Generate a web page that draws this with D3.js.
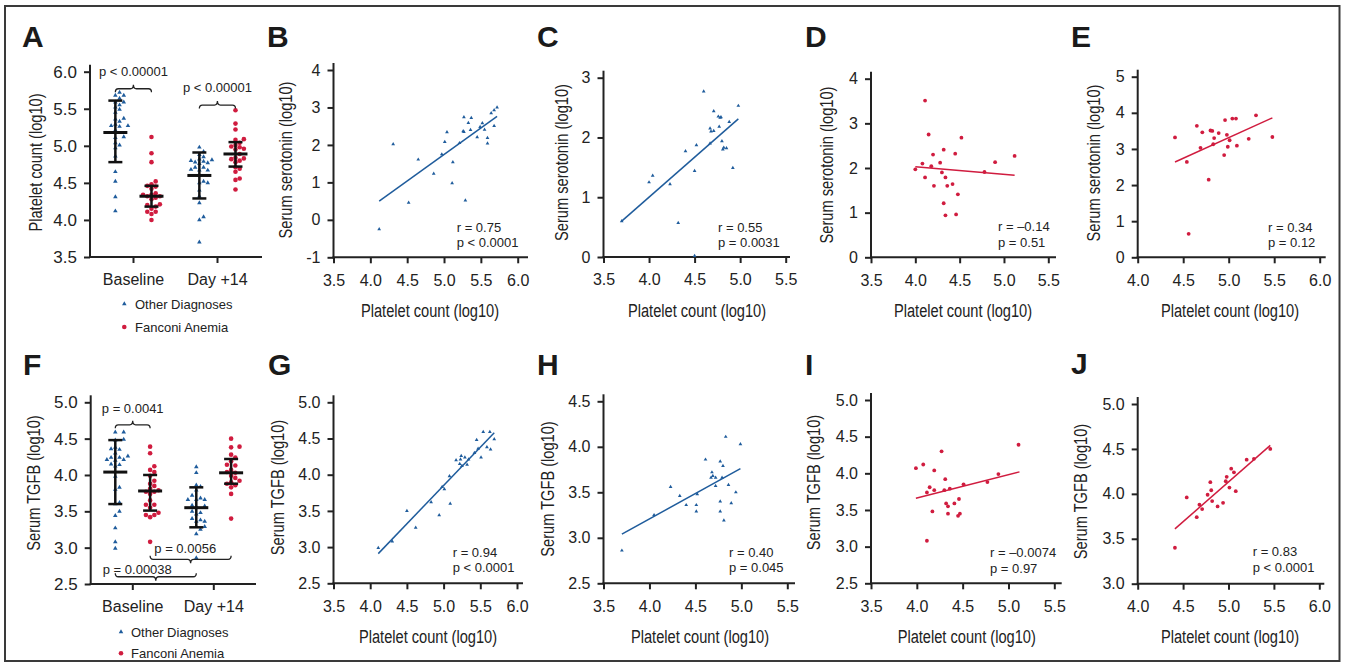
<!DOCTYPE html>
<html>
<head>
<meta charset="utf-8">
<script src="https://cdn.jsdelivr.net/npm/d3@7"></script>
<style>
body { margin: 0; background: #fff; }
text { font-family: "Liberation Sans", Arial, Helvetica, sans-serif; fill: #222; }
</style>
</head>
<body>
<div id="fig"></div>
<script>
// ---------- data ----------
// B: serotonin vs platelets, other diagnoses, baseline
var bPlt = [4.12,4.31,4.52,4.65,4.86,4.97,5.01,5.04,5.11,5.12,5.21,5.26,5.27,5.27,5.29,5.33,5.36,5.37,5.45,5.49,5.52,5.55,5.59,5.59,5.64,5.68,5.68,5.72];
var bSer = [-0.25,2.02,0.46,1.61,1.23,1.75,2.08,2.34,0.98,1.54,2.05,2.37,2.74,2.35,0.52,2.59,2.40,2.72,2.21,2.48,2.58,2.41,2.19,2.04,2.85,2.51,2.93,3.00];
// C: other diagnoses, day +14
var cPlt = [3.70,4.00,4.04,4.23,4.32,4.40,4.50,4.50,4.52,4.60,4.67,4.67,4.68,4.71,4.71,4.76,4.77,4.78,4.79,4.80,4.81,4.82,4.85,4.88,4.92,4.98];
var cSer = [0.60,1.25,1.36,1.22,0.57,1.77,1.44,0.02,1.87,2.77,1.90,2.15,2.10,2.11,2.44,2.35,2.18,2.33,2.34,1.94,1.80,1.83,1.82,2.26,1.49,2.53];
// D: Fanconi anemia, baseline
var dPlt = [4.00,4.08,4.11,4.11,4.15,4.18,4.20,4.21,4.28,4.30,4.32,4.32,4.34,4.34,4.36,4.42,4.45,4.46,4.48,4.52,4.78,4.90,5.12];
var dSer = [1.97,2.10,3.51,1.79,2.75,2.04,2.30,1.60,2.12,1.90,2.41,1.21,1.79,0.94,1.60,1.64,2.32,0.96,1.41,2.68,1.91,2.13,2.27];
// E: Fanconi anemia, day +14
var ePlt = [4.41,4.54,4.56,4.65,4.69,4.71,4.78,4.80,4.82,4.83,4.84,4.89,4.95,4.96,4.98,4.99,5.01,5.04,5.08,5.09,5.22,5.30,5.48];
var eSer = [3.32,2.64,0.65,3.64,3.03,3.46,2.15,3.51,3.50,3.13,3.30,3.44,2.83,3.80,3.39,3.06,3.24,3.84,3.84,3.09,3.28,3.93,3.33];
// G-J: TGFB vs platelets
var gPlt = [4.11,4.30,4.50,4.62,4.83,4.94,4.98,5.01,5.08,5.09,5.17,5.22,5.24,5.23,5.25,5.29,5.32,5.34,5.42,5.45,5.47,5.51,5.54,5.59,5.63,5.64,5.69];
var gTgf = [2.99,3.08,3.50,3.27,3.62,3.44,3.83,3.80,3.98,3.60,4.20,4.15,4.26,4.21,4.12,4.24,4.14,4.21,4.30,4.48,4.36,4.24,4.59,4.38,4.59,4.35,4.49];
var hPlt = [3.70,4.05,4.23,4.33,4.40,4.51,4.51,4.52,4.61,4.67,4.68,4.69,4.72,4.72,4.77,4.77,4.77,4.79,4.80,4.81,4.83,4.86,4.89,4.94,4.99];
var hTgf = [2.86,3.25,3.56,3.46,3.36,3.36,3.29,3.48,3.86,3.66,3.72,3.68,3.57,3.66,3.84,3.40,3.29,3.66,3.79,3.19,4.11,3.58,3.38,3.50,4.03];
var iPlt = [3.99,4.07,4.11,4.11,4.14,4.17,4.19,4.19,4.27,4.30,4.31,4.32,4.34,4.34,4.36,4.41,4.45,4.46,4.47,4.51,4.77,4.89,5.11];
var iTgf = [4.07,4.12,3.08,3.74,3.81,3.48,4.04,3.77,4.30,3.77,3.92,3.59,3.55,3.45,3.79,3.59,3.42,3.65,3.45,3.85,3.88,3.99,4.39];
var jPlt = [4.41,4.54,4.65,4.68,4.71,4.77,4.80,4.81,4.82,4.88,4.94,4.97,4.98,5.01,5.03,5.06,5.08,5.20,5.28,5.46];
var jTgf = [3.40,3.96,3.74,3.88,3.83,3.99,4.13,4.04,3.92,3.86,3.90,4.14,4.19,4.07,4.28,4.24,4.03,4.38,4.39,4.50];

// regression line end points (data units)
var fitB = [[4.12,0.50],[5.72,2.76]];
var fitC = [[3.70,0.60],[4.98,2.31]];
var fitD = [[4.00,2.03],[5.12,1.84]];
var fitE = [[4.41,2.64],[5.48,3.86]];
var fitG = [[4.11,2.91],[5.69,4.58]];
var fitH = [[3.70,3.04],[4.99,3.76]];
var fitI = [[3.99,3.66],[5.12,4.02]];
var fitJ = [[4.41,3.61],[5.46,4.54]];

var statsText = [
  ["r = 0.75", "p < 0.0001"], ["r = 0.55", "p = 0.0031"], ["r = \u20130.14", "p = 0.51"], ["r = 0.34", "p = 0.12"],
  ["r = 0.94", "p < 0.0001"], ["r = 0.40", "p = 0.045"], ["r = \u20130.0074", "p = 0.97"], ["r = 0.83", "p < 0.0001"]
];

// A / F: mean and SD bars (order: other baseline, FA baseline, other day+14, FA day+14)
var aMean = [5.18, 4.32, 4.60, 4.89];
var aLo   = [4.78, 4.18, 4.29, 4.72];
var aHi   = [5.61, 4.46, 4.91, 5.05];
var fMean = [4.04, 3.78, 3.55, 4.03];
var fLo   = [3.60, 3.51, 3.28, 3.88];
var fHi   = [4.48, 4.00, 3.83, 4.22];
var pA = ["p < 0.00001", "p < 0.00001"];
var pF = ["p = 0.0041", "p = 0.0056", "p = 0.00038"];

var categories = ["Baseline", "Day +14"];
var seriesNames = ["Other Diagnoses", "Fanconi Anemia"];
var letters = ["A","B","C","D","E","F","G","H","I","J"];

var pltTicks1 = [3.5,4.0,4.5,5.0,5.5,6.0];
var pltTicks2 = [3.5,4.0,4.5,5.0,5.5];
var pltTicks3 = [4.0,4.5,5.0,5.5,6.0];

// ---------- layout ----------
var blue = "#1f5c9c", red = "#d01c3f";
var svg = d3.select("#fig").append("svg").attr("width", 1346).attr("height", 663);

svg.append("rect")
    .attr("x", 5).attr("y", 6).attr("width", 1334.5).attr("height", 655)
    .attr("fill", "none").attr("stroke", "#3a3a3a").attr("stroke-width", 2);

var letterPos = [[22,47],[267,47],[537,47],[805,47],[1071,47],[23,375],[268,375],[537,375],[805,375],[1071,374]];
letters.forEach(function(l, i) {
    svg.append("text")
        .attr("x", letterPos[i][0]).attr("y", letterPos[i][1])
        .style("font-size", "30px").style("font-weight", "bold")
        .style("fill", "#1a1a1a")
        .text(l);
});

// condensed label (the figure uses a narrow face)
function label(g, str, x, y, vertical) {
    g.append("text")
        .attr("transform", "translate(" + x + "," + y + ")" + (vertical ? " rotate(-90)" : "") + " scale(0.77,1)")
        .attr("text-anchor", "middle")
        .attr("dy", vertical ? "0.35em" : 0)
        .style("font-size", "19px")
        .text(str);
}

function axes(g, x, y, xTicks, yTicks, xFmt, yFmt, x0, xEnd, ySize) {
    var yA = g.append("g").attr("transform", "translate(" + x0 + ",0)")
        .call(d3.axisLeft(y).tickValues(yTicks).tickFormat(yFmt).tickSize(6).tickPadding(7));
    var xA = g.append("g").attr("transform", "translate(0," + y.range()[0] + ")")
        .call(d3.axisBottom(x).tickValues(xTicks).tickFormat(xFmt).tickSize(6).tickPadding(11));
    [yA, xA].forEach(function(a) {
        a.select(".domain").remove();
        a.attr("font-family", null).attr("font-size", null);
        a.selectAll("line").attr("stroke", "#222").attr("stroke-width", 2);
        a.selectAll("text").style("font-size", "16px").attr("fill", "#222");
    });
    if (ySize) yA.selectAll("text").style("font-size", ySize);
    g.append("line")
        .attr("x1", x0).attr("x2", x0)
        .attr("y1", y.range()[1] - 7).attr("y2", y.range()[0] + 1)
        .attr("stroke", "#222").attr("stroke-width", 2);
    g.append("line")
        .attr("x1", x0 - 1).attr("x2", xEnd)
        .attr("y1", y.range()[0]).attr("y2", y.range()[0])
        .attr("stroke", "#222").attr("stroke-width", 2);
}

function mark(g, series, cx, cy, big) {
    if (series == 0) {
        g.append("path")
            .attr("d", d3.symbol(d3.symbolTriangle).size(big ? 9 : 6)())
            .attr("transform", "translate(" + cx + "," + cy + ")")
            .attr("fill", blue);
    } else {
        g.append("circle").attr("cx", cx).attr("cy", cy).attr("r", big ? 2.3 : 1.9).attr("fill", red);
    }
}

// ---------- scatter panels B-E, G-J ----------
var scatterData = [
    [bPlt, bSer, fitB, 0], [cPlt, cSer, fitC, 0], [dPlt, dSer, fitD, 1], [ePlt, eSer, fitE, 1],
    [gPlt, gTgf, fitG, 0], [hPlt, hTgf, fitH, 0], [iPlt, iTgf, fitI, 1], [jPlt, jTgf, fitJ, 1]
];
var scatterLayout = [
    {xd:[3.5,6.0], xr:[333.5,517.7], yd:[-1,4], yr:[257.3,70],   xEnd:528,    yt:[-1,0,1,2,3,4], xt:pltTicks1, sx:456.7, sy:231.5, ylx:285.3, yly:160,   xlx:430,   xly:317, yl:"Serum serotonin (log10)"},
    {xd:[3.5,5.5], xr:[603.5,785.7], yd:[0,3],  yr:[257,77.7],   xEnd:790,    yt:[0,1,2,3],      xt:pltTicks2, sx:718,   sy:231.5, ylx:561.3, yly:162.5, xlx:697,   xly:317, yl:"Serum serotonin (log10)"},
    {xd:[3.5,5.5], xr:[871,1048.3],  yd:[0,4],  yr:[257.3,78.7], xEnd:1056,   yt:[0,1,2,3,4],    xt:pltTicks2, sx:998,   sy:231,   ylx:826.3, yly:165,   xlx:963,   xly:317, yl:"Serum serotonin (log10)"},
    {xd:[4.0,6.0], xr:[1137.7,1319.7], yd:[0,5], yr:[257.3,76.7], xEnd:1325.7, yt:[0,1,2,3,4,5],  xt:pltTicks3, sx:1268,  sy:231.5, ylx:1093,  yly:163,   xlx:1230,  xly:317, yl:"Serum serotonin (log10)"},
    {xd:[3.5,6.0], xr:[333.5,517],   yd:[2.5,5.0], yr:[583.3,402.3], xEnd:523,  yt:[2.5,3,3.5,4,4.5,5], xt:pltTicks1, sx:452.7, sy:556.5, ylx:277,   yly:487.5, xlx:428,   xly:643, yl:"Serum TGFB (log10)"},
    {xd:[3.5,5.5], xr:[603.5,787.3], yd:[2.5,4.5], yr:[583.3,401.3], xEnd:795,  yt:[2.5,3,3.5,4,4.5],   xt:pltTicks2, sx:729,   sy:556.5, ylx:547,   yly:489,   xlx:700,   xly:643, yl:"Serum TGFB (log10)"},
    {xd:[3.5,5.5], xr:[871,1054.3],  yd:[2.5,5.0], yr:[583.3,400],   xEnd:1061.7, yt:[2.5,3,3.5,4,4.5,5], xt:pltTicks2, sx:990, sy:557,   ylx:813.7, yly:482.5, xlx:966.7, xly:643, yl:"Serum TGFB (log10)"},
    {xd:[4.0,6.0], xr:[1137.7,1319.3], yd:[3.0,5.0], yr:[583.7,404], xEnd:1324.3, yt:[3,3.5,4,4.5,5],   xt:pltTicks3, sx:1252.7, sy:556, ylx:1080.3, yly:491.5, xlx:1230,  xly:643, yl:"Serum TGFB (log10)"}
];

scatterLayout.forEach(function(L, i) {
    var d = scatterData[i];
    var g = svg.append("g");
    var x = d3.scaleLinear().domain(L.xd).range(L.xr);
    var y = d3.scaleLinear().domain(L.yd).range(L.yr);
    var yFmt = i < 4 ? function(v) { return String(v); } : d3.format(".1f");
    axes(g, x, y, L.xt, L.yt, d3.format(".1f"), yFmt, L.xr[0], L.xEnd);

    d[0].forEach(function(px, k) {
        mark(g, d[3], x(px), y(d[1][k]), false);
    });

    g.append("path")
        .datum(d[2])
        .attr("d", d3.line().x(function(p) { return x(p[0]); }).y(function(p) { return y(p[1]); }))
        .attr("fill", "none")
        .attr("stroke", d[3] == 0 ? blue : red)
        .attr("stroke-width", 1.5);

    statsText[i].forEach(function(t, k) {
        g.append("text").attr("x", L.sx).attr("y", L.sy + k * 15.5)
            .style("font-size", "13px").text(t);
    });

    label(g, "Platelet count (log10)", L.xlx, L.xly, false);
    label(g, L.yl, L.ylx, L.yly, true);
});

// ---------- dot plots A and F ----------
function swarm(vals, cx, y) {
    var placed = [];
    vals.slice().sort(d3.ascending).forEach(function(v) {
        var py = y(v), offs = [0];
        for (var k = 1; k < 10; k++) offs.push(k * 4.2, -k * 4.2);
        for (var j = 0; j < offs.length; j++) {
            var px = cx + offs[j];
            var ok = placed.every(function(q) { return Math.hypot(q.px - px, q.py - py) >= 4.4; });
            if (ok) { placed.push({px: px, py: py}); break; }
        }
    });
    return placed;
}

function brace(x1, x2, yy, dir) {
    var xm = (x1 + x2) / 2, t = -dir * 3.5, c = dir * 4;
    return "M" + x1 + "," + (yy + t) + " Q" + x1 + "," + yy + " " + (x1 + 3) + "," + yy +
        " L" + (xm - 3) + "," + yy + " Q" + xm + "," + yy + " " + xm + "," + (yy + c) +
        " Q" + xm + "," + yy + " " + (xm + 3) + "," + yy +
        " L" + (x2 - 3) + "," + yy + " Q" + x2 + "," + yy + " " + x2 + "," + (yy + t);
}

var groupCat = [0, 0, 1, 1], groupOff = [-0.21, 0.22, -0.21, 0.22], groupSeries = [0, 1, 0, 1];

var dotLayout = [
    {yd:[3.5,6.0], yr:[257,71.7], catX:[133,217], x0:90, xEnd:262, yt:[3.5,4,4.5,5,5.5,6], ylx:35.5, yly:162.5,
     yl:"Platelet count (log10)", legX:124.3, legY:[304,327], legTx:135,
     br:[{a:0,b:1,v:5.77,dir:-1,dx:0,dy:-13}, {a:2,b:3,v:5.55,dir:-1,dx:0,dy:-13}]},
    {yd:[2.5,5.0], yr:[584,402.3], catX:[132.3,213.3], x0:90.7, xEnd:256, yt:[2.5,3,3.5,4,4.5,5], ylx:33, yly:483,
     yl:"Serum TGFB (log10)", legX:121, legY:[632,653.3], legTx:131,
     br:[{a:0,b:1,v:4.69,dir:-1,dx:0,dy:-12.3}, {a:1,b:3,v:2.84,dir:1,dx:-5.4,dy:-6.6}, {a:0,b:2,v:2.60,dir:1,dx:-18.5,dy:-2.7}]}
];
var dotData = [
    {groups:[bPlt, dPlt, cPlt, ePlt], mean:aMean, lo:aLo, hi:aHi, p:pA},
    {groups:[gTgf, iTgf, hTgf, jTgf], mean:fMean, lo:fLo, hi:fHi, p:pF}
];

dotLayout.forEach(function(L, i) {
    var D = dotData[i];
    var g = svg.append("g");
    var x = d3.scaleLinear().domain([0, 1]).range(L.catX);
    var y = d3.scaleLinear().domain(L.yd).range(L.yr);
    axes(g, x, y, [0, 1], L.yt, function(c) { return categories[c]; }, d3.format(".1f"), L.x0, L.xEnd, "17px");

    D.groups.forEach(function(vals, k) {
        var cx = x(groupCat[k] + groupOff[k]);
        swarm(vals, cx, y).forEach(function(p) { mark(g, groupSeries[k], p.px, p.py, true); });
        var bar = g.append("g").attr("stroke", "#111").attr("stroke-width", 2.5);
        bar.append("line").attr("x1", cx).attr("x2", cx).attr("y1", y(D.lo[k])).attr("y2", y(D.hi[k]));
        bar.append("line").attr("x1", cx - 12).attr("x2", cx + 12).attr("y1", y(D.mean[k])).attr("y2", y(D.mean[k])).attr("stroke-width", 3);
        [D.lo[k], D.hi[k]].forEach(function(v) {
            bar.append("line").attr("x1", cx - 7).attr("x2", cx + 7).attr("y1", y(v)).attr("y2", y(v));
        });
    });

    L.br.forEach(function(b, k) {
        var x1 = x(groupCat[b.a] + groupOff[b.a]), x2 = x(groupCat[b.b] + groupOff[b.b]), yy = y(b.v);
        g.append("path").attr("d", brace(x1, x2, yy, b.dir))
            .attr("fill", "none").attr("stroke", "#222").attr("stroke-width", 1.3);
        g.append("text").attr("x", (x1 + x2) / 2 + b.dx).attr("y", yy + b.dy)
            .attr("text-anchor", "middle").style("font-size", "13px").text(D.p[k]);
    });

    seriesNames.forEach(function(s, k) {
        mark(g, k, L.legX, L.legY[k], true);
        g.append("text").attr("x", L.legTx).attr("y", L.legY[k]).attr("dy", "0.35em")
            .style("font-size", "13px").text(s);
    });

    label(g, L.yl, L.ylx, L.yly, true);
});
</script>
</body>
</html>
